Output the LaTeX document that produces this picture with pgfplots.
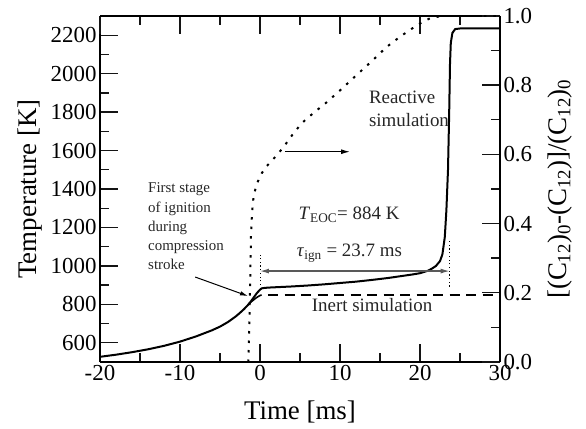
\documentclass[border=0pt]{standalone}
\usepackage{fontspec}
\setmainfont{Liberation Serif}
\usepackage{pgfplots}
\pgfplotsset{compat=1.18}
\usetikzlibrary{arrows.meta}
\definecolor{tickink}{RGB}{20,20,20}

% Reactive temperature trace [ms, K]
\pgfplotstableread{
t T
-20 527
-18 538
-16 551
-14 566
-12 584
-10 606
-8 633
-6 665
-5 684
-4 708
-3 738
-2.5 756
-2 775
-1.5 797
-1.2 812
-0.8 835
-0.4 858
0 876
0.2 883
0.5 885
1 887
2 889
4 893
6 898
8 904
10 911
12 918
14 927
16 937
18 949
19 955
20 962
21 975
21.5 986
22 1000
22.5 1025
22.8 1060
23.1 1150
23.3 1290
23.5 1500
23.65 1800
23.75 2050
23.85 2160
24.05 2212
24.4 2232
25 2235
30 2235
}\reactive

% Inert temperature trace: compression part and constant-volume part
\pgfplotstableread{
t T
-1.5 797
-1.2 810
-0.8 823
-0.4 836
0 846
0.2 849
}\inertcomp
\pgfplotstableread{
t T
1.0 849
30 849
}\inertflat

% Normalised fuel conversion (right axis)
\pgfplotstableread{
t X
-1.45 0
-1.35 0.1
-1.25 0.2
-1.18 0.3
-1.12 0.37
-1.0 0.43
-0.8 0.48
-0.4 0.515
0.2 0.545
0.8 0.565
2 0.595
2.9 0.62
4 0.655
5.2 0.69
6.7 0.72
8.3 0.75
10 0.785
12.1 0.83
14 0.87
15.8 0.91
17.5 0.94
19.4 0.97
20.5 0.985
21.5 0.996
23 1.0
30 1.0
}\conversion

\pgfplotsset{
  common/.style={
    scale only axis, width=400bp, height=346bp,
    xmin=-20, xmax=30,
    axis line style={line width=1.6bp},
    tick style={tickink, line width=1.4bp},
    major tick length=18bp, minor tick length=9bp,
    tick label style={font=\fontsize{23}{23}\selectfont},
    /pgf/number format/assume math mode=true,
    /pgf/number format/1000 sep={},
  },
}

\begin{document}
\begin{tikzpicture}
\begin{axis}[common,
  ymin=500, ymax=2300,
  axis x line*=bottom, axis y line*=left,
  xtick pos=left, ytick pos=left,
  xtick align=inside, ytick align=inside,
  xtick={-20,-10,0,10,20,30}, minor xtick={-15,-5,5,15,25},
  ytick={600,800,1000,1200,1400,1600,1800,2000,2200},
  minor ytick={700,900,1100,1300,1500,1700,1900,2100},
  xlabel={Time [ms]}, ylabel={Temperature [K]},
  every axis x label/.style={at={(axis description cs:0.5,-0.145)}, anchor=center,
    font=\fontsize{27}{27}\selectfont},
  every axis y label/.style={at={(axis description cs:-0.175,0.5)}, rotate=90, anchor=center,
    font=\fontsize{27}{27}\selectfont},
]
  \addplot[black, line width=2bp] table[x=t, y=T] {\reactive};
  \addplot[black, line width=1.6bp] table[x=t, y=T] {\inertcomp};
  \addplot[black, line width=1.8bp, dash pattern=on 10bp off 6.5bp] table[x=t, y=T] {\inertflat};

  % ignition delay marker
  \draw[black!65, line width=1.2bp, {Latex[length=9bp,width=5bp]}-{Latex[length=9bp,width=5bp]}]
    (axis cs:0,973) -- (axis cs:23.7,973);
  \draw[black, line width=0.9bp, dash pattern=on 1.2bp off 2.5bp] (axis cs:0,900) -- (axis cs:0,1057);
  \draw[black, line width=0.9bp, dash pattern=on 1.2bp off 2.5bp] (axis cs:23.7,892) -- (axis cs:23.7,1135);

  % annotations
  \begin{scope}[every node/.style={inner sep=0pt, anchor=base west, font=\fontsize{15}{15}\selectfont, text=black!85}]
    \node at (axis cs:-14,1381) {First stage};
    \node at (axis cs:-14,1280) {of ignition};
    \node at (axis cs:-14,1180) {during};
    \node at (axis cs:-14,1080) {compression};
    \node at (axis cs:-14,979) {stroke};
  \end{scope}
  \draw[black, line width=1bp, -{Latex[length=8bp,width=4.5bp]}] (axis cs:-8.1,942) -- (axis cs:-1.5,843);

  \begin{scope}[every node/.style={inner sep=0pt, anchor=base west, font=\fontsize{19}{19}\selectfont, text=black!85}]
    \node at (axis cs:13.6,1846) {Reactive};
    \node at (axis cs:13.6,1724) {simulation};
    \node at (axis cs:4.8,1239) {\textit{T}\textsubscript{EOC}= 884 K};
    \node at (axis cs:4.6,1048) {\textit{τ}\textsubscript{ign} = 23.7 ms};
    \node at (axis cs:6.46,762) {Inert simulation};
  \end{scope}
  \draw[black, line width=1.2bp, -{Latex[length=9bp,width=5bp]}] (axis cs:3.1,1594) -- (axis cs:11.25,1594);
\end{axis}

% top edge with its ticks
\begin{axis}[common,
  ymin=0, ymax=1,
  axis x line*=top, axis y line=none,
  xtick pos=right, xtick align=inside,
  xtick={-20,-10,0,10,20,30}, minor xtick={-15,-5,5,15,25},
  xticklabels={},
  tick style={tickink, line width=1.4bp},
]
\end{axis}

% right-hand conversion axis
\begin{axis}[common,
  ymin=0, ymax=1,
  axis x line=none, axis y line*=right,
  ytick pos=right, ytick align=inside,
  ytick={0,0.2,0.4,0.6,0.8,1.0}, minor ytick={0.1,0.3,0.5,0.7,0.9},
  yticklabel style={/pgf/number format/fixed, /pgf/number format/fixed zerofill, /pgf/number format/precision=1},
  ylabel={[(C\textsubscript{12})\textsubscript{0}-(C\textsubscript{12})]/(C\textsubscript{12})\textsubscript{0}},
  every axis y label/.style={at={(axis description cs:1.15,0.5)}, rotate=90, anchor=center,
    font=\fontsize{27}{27}\selectfont},
]
  \addplot[black, line width=2bp, dash pattern=on 2.5bp off 7bp] table[x=t, y=X] {\conversion};
\end{axis}
\pgfresetboundingbox
\path[use as bounding box] (-100bp,-67bp) rectangle (486bp,362bp);
\end{tikzpicture}
\end{document}
